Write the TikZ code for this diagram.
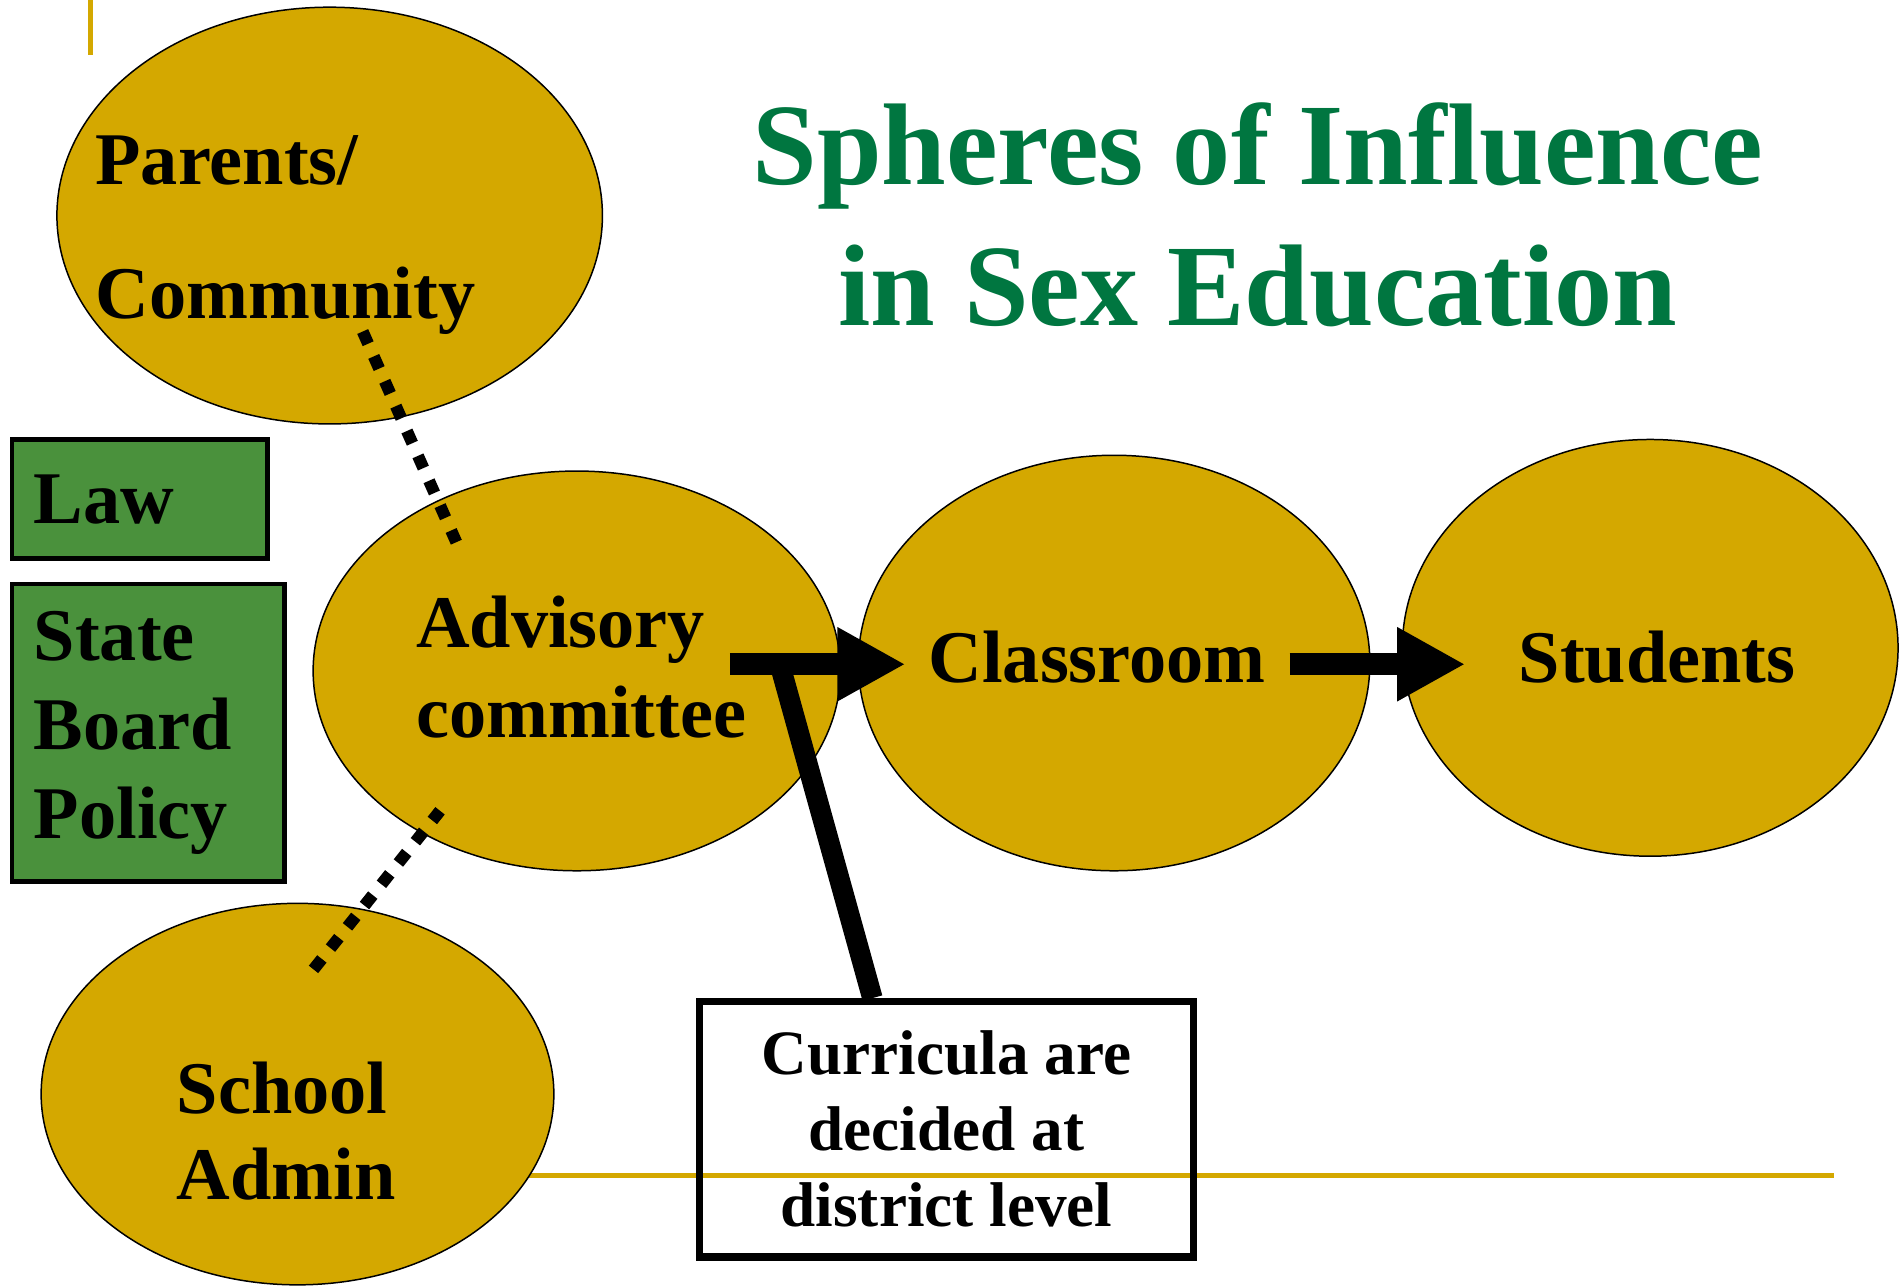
\documentclass[tikz,border=0pt]{standalone}
\usepackage{fontspec}
\setmainfont{Liberation Serif}
\usetikzlibrary{arrows.meta,shapes.geometric}
\definecolor{gold}{RGB}{212,168,0}
\definecolor{lawgreen}{RGB}{74,145,60}
\definecolor{titlegreen}{RGB}{0,118,64}

\begin{document}
\begin{tikzpicture}[x=0.01cm, y=-0.01cm,
    sphere/.style={shape=ellipse, draw=black, fill=gold, line width=0.35pt, inner sep=0pt},
    lbl/.style={font=\fontsize{17.4pt}{#1}\selectfont\bfseries, align=left, inner sep=0pt, anchor=base west},
    lbl/.default=21pt,
    lawbox/.style={draw=black, fill=lawgreen, line width=1.1pt, font=\fontsize{17.4pt}{20.8pt}\selectfont\bfseries,
        align=left, inner xsep=0.18cm, inner ysep=0pt},
    notebox/.style={draw=black, line width=1.7pt, font=\fontsize{14.8pt}{17.8pt}\selectfont\bfseries,
        align=center, inner sep=0pt},
    rulebar/.style={draw=gold, line width=1pt},
    flow/.style={-{Triangle[length=0.56cm, width=0.57cm]}, line width=5.1pt},
    dots/.style={line width=2.8pt, dash pattern=on 0.11cm off 0.114cm}]
    \useasboundingbox (0,0) rectangle (1568,1059);
    % slide rules
    \draw[rulebar] (74.5,0) -- (74.5,45.5);
    \draw[rulebar] (74.5,968) -- (1510,968);
    % title (base = last line)
    \node[font=\fontsize{27.2pt}{33pt}\selectfont\bfseries, text=titlegreen, align=center,
        inner sep=0pt, anchor=base] (title) at (1036,268) {Spheres of Influence\\in Sex Education};
    % spheres
    \node[sphere, minimum width=4.49cm, minimum height=3.43cm] (parents) at (271.5,177.5) {};
    \node[sphere, minimum width=4.34cm, minimum height=3.29cm] (advisory) at (475,552.5) {};
    \node[sphere, minimum width=4.21cm, minimum height=3.42cm] (classroom) at (917.5,546) {};
    \node[sphere, minimum width=4.08cm, minimum height=3.43cm] (students) at (1359,533.5) {};
    \node[sphere, minimum width=4.22cm, minimum height=3.14cm] (school) at (245,901) {};
    \node[lbl=31.3pt] (parentsText) at (78,262) {Parents/\\Community};
    \node[lbl=21pt] (advisoryText) at (342,607) {Advisory\\committee};
    \node[lbl] (classroomText) at (764,562) {Classroom};
    \node[lbl] (studentsText) at (1250,562) {Students};
    \node[lbl=20.2pt] (schoolText) at (145,988) {School\\Admin};
    % rule boxes
    \node[lawbox, text width=1.74cm, minimum height=0.98cm] (law) at (115,411) {Law};
    \node[lawbox, text width=1.88cm, minimum height=2.45cm] (policy) at (122,603.5) {State\\Board\\Policy};
    % influence links
    \coordinate (parentsEnd) at (298.7,273);
    \coordinate (advisoryTop) at (375.8,446.5);
    \coordinate (schoolEnd) at (258.2,798.3);
    \coordinate (advisoryLow) at (362.4,667.7);
    \draw[dots] (parentsEnd) -- (advisoryTop);
    \draw[dots] (schoolEnd) -- (advisoryLow);
    % flow arrows
    \coordinate (advisoryOut) at (601,547);
    \coordinate (classroomIn) at (745.6,547);
    \coordinate (classroomOut) at (1062,547);
    \coordinate (studentsIn) at (1206.6,547);
    \draw[flow] (advisoryOut) -- (classroomIn);
    \draw[flow] (classroomOut) -- (studentsIn);
    % note
    \node[notebox, minimum width=4.07cm, minimum height=2.10cm] (note) at (779.5,930)
        {Curricula are\\decided at\\district level};
    \coordinate (hook) at (643,550);
    \draw[line width=4.8pt] (hook) -- ([xshift=-0.61cm]note.north);
\end{tikzpicture}
\end{document}
